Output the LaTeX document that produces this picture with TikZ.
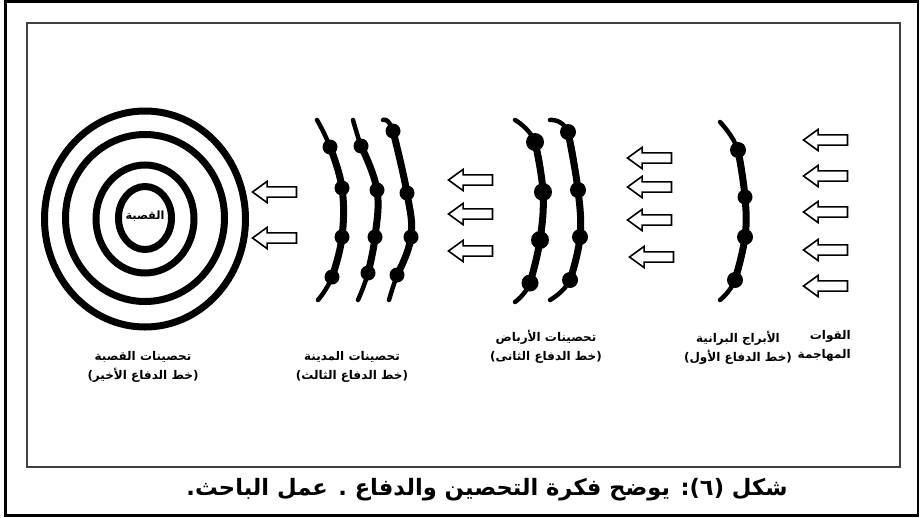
\documentclass[tikz,border=0pt]{standalone}
\usepackage{fontspec}
\newfontfamily\arabicfont[Script=Arabic]{DejaVu Sans}
\TeXXeTstate=1
\usetikzlibrary{shapes.arrows,shapes.geometric}

\begin{document}
\begin{tikzpicture}[x=1pt,y=-1pt,
  ring/.style={ellipse, draw=black, line width=7pt, inner sep=0pt},
  wall/.style={draw=black, line width=4.5pt, line cap=round},
  wallcore/.style={draw=black, line width=7pt, line cap=round},
  tower/.style={circle, fill=black, inner sep=0pt, minimum size=#1},
  tower/.default=15pt,
  attack/.style={single arrow, draw=black, line width=1.6pt, fill=white,
    shape border rotate=180, minimum height=44pt,
    inner xsep=0pt, inner ysep=4.3pt, text height=0pt, text depth=0pt,
    single arrow head extend=5.5pt, single arrow tip angle=72},
  lbl/.style={font=\arabicfont\bfseries\fontsize{12}{19}\selectfont,
    align=center, inner sep=0pt},
  caption/.style={font=\arabicfont\bfseries\fontsize{22.6}{24}\selectfont,
    inner sep=0pt},
]
% page and frames
\fill[white] (0,0) rectangle (921,517);
\useasboundingbox (0,0) rectangle (921,517);
\draw[line width=2.5pt] (5.5,1.5) rectangle (918,515.5);
\draw[draw=black!75, line width=2.5pt] (27,23) rectangle (900,467);

% citadel: concentric rings
\node[ring, minimum width=201pt, minimum height=216pt] (ring4) at (145,219) {};
\node[ring, minimum width=159pt, minimum height=167pt] (ring3) at (145,218) {};
\node[ring, minimum width=98pt,  minimum height=108pt] (ring2) at (145,219) {};
\node[ring, minimum width=53pt,  minimum height=63pt]  (ring1) at (145,218) {};
\node[lbl, font=\arabicfont\bfseries\fontsize{11.3}{13}\selectfont] (qasaba) at (145,216) {\beginR القصبة\endR};

% city walls (third line)
\coordinate (c1t) at (317,120);
\node[tower] (c1a) at (330,147) {};
\node[tower] (c1b) at (342,188) {};
\node[tower] (c1c) at (342,237) {};
\node[tower] (c1d) at (332,277) {};
\coordinate (c1e) at (318,300);
\draw[wall] plot[smooth, tension=0.7] coordinates {(c1t) (c1a.center) (c1b.center) (c1c.center) (c1d.center) (c1e)};
\draw[wallcore] plot[smooth, tension=0.7] coordinates {(c1a.center) (c1b.center) (c1c.center) (c1d.center)};

\coordinate (c2t) at (353,120);
\node[tower] (c2a) at (361,146) {};
\node[tower] (c2b) at (377,190) {};
\node[tower] (c2c) at (375,237) {};
\node[tower] (c2d) at (368,273) {};
\coordinate (c2e) at (358,300);
\draw[wall] plot[smooth, tension=0.7] coordinates {(c2t) (c2a.center) (c2b.center) (c2c.center) (c2d.center) (c2e)};
\draw[wallcore] plot[smooth, tension=0.7] coordinates {(c2a.center) (c2b.center) (c2c.center) (c2d.center)};

\coordinate (c3t) at (383,120);
\node[tower] (c3a) at (393,131) {};
\node[tower] (c3b) at (407,193) {};
\node[tower] (c3c) at (411,237) {};
\node[tower] (c3d) at (397,275) {};
\coordinate (c3e) at (389,300);
\draw[wall] plot[smooth, tension=0.7] coordinates {(c3t) (c3a.center) (c3b.center) (c3c.center) (c3d.center) (c3e)};
\draw[wallcore] plot[smooth, tension=0.7] coordinates {(c3a.center) (c3b.center) (c3c.center) (c3d.center)};

% suburb walls (second line)
\coordinate (s1t) at (515,120);
\node[tower=18pt] (s1a) at (535,142) {};
\node[tower=18pt] (s1b) at (543,192) {};
\node[tower=18pt] (s1c) at (540,240) {};
\node[tower=17pt] (s1d) at (530,283) {};
\coordinate (s1e) at (515,302);
\draw[wall] plot[smooth, tension=0.7] coordinates {(s1t) (s1a.center) (s1b.center) (s1c.center) (s1d.center) (s1e)};
\draw[wallcore] plot[smooth, tension=0.7] coordinates {(s1a.center) (s1b.center) (s1c.center) (s1d.center)};

\coordinate (s2t) at (550,120);
\node[tower=16pt] (s2a) at (568,132) {};
\node[tower=16pt] (s2b) at (578,190) {};
\node[tower=16pt] (s2c) at (580,237) {};
\node[tower=16pt] (s2d) at (570,280) {};
\coordinate (s2e) at (550,300);
\draw[wall] plot[smooth, tension=0.7] coordinates {(s2t) (s2a.center) (s2b.center) (s2c.center) (s2d.center) (s2e)};
\draw[wallcore] plot[smooth, tension=0.7] coordinates {(s2a.center) (s2b.center) (s2c.center) (s2d.center)};

% outer towers (first line)
\coordinate (o1t) at (720,122);
\node[tower=16pt] (o1a) at (738,150) {};
\node[tower=15pt] (o1b) at (745,197) {};
\node[tower=16pt] (o1c) at (745,237) {};
\node[tower=16pt] (o1d) at (735,280) {};
\coordinate (o1e) at (720,300);
\draw[wall] plot[smooth, tension=0.7] coordinates {(o1t) (o1a.center) (o1b.center) (o1c.center) (o1d.center) (o1e)};
\draw[wallcore] plot[smooth, tension=0.7] coordinates {(o1a.center) (o1b.center) (o1c.center) (o1d.center)};

% attacking thrusts
\node[attack] (a11) at (278,192) {};
\node[attack] (a12) at (278,238) {};
\node[attack] (a21) at (474,180) {};
\node[attack] (a22) at (474,214) {};
\node[attack] (a23) at (474,251) {};
\node[attack] (a31) at (653,158) {};
\node[attack] (a32) at (653,187) {};
\node[attack] (a33) at (653,220) {};
\node[attack] (a34) at (655,257) {};
\node[attack] (a41) at (829,140) {};
\node[attack] (a42) at (829,176) {};
\node[attack] (a43) at (829,212) {};
\node[attack] (a44) at (829,250) {};
\node[attack] (a45) at (829,286) {};

% labels
\node[lbl] (lab1) at (143,367) {\beginR تحصينات القصبة\endR\\\beginR(خط الدفاع الأخير)\endR};
\node[lbl] (lab2) at (352,367) {\beginR تحصينات المدينة\endR\\\beginR(خط الدفاع الثالث)\endR};
\node[lbl] (lab3) at (546,347) {\beginR تحصينات الأرباض\endR\\\beginR(خط الدفاع الثانى)\endR};
\node[lbl] (lab4) at (738,348) {\beginR الأبراج البرانية\endR\\\beginR(خط الدفاع الأول)\endR};
\node[lbl, align=right, anchor=east] (lab5) at (851,346) {\beginR القوات\endR\\\beginR المهاجمة\endR};

% caption
\node[caption] (cap) at (487,490) {\beginR شكل (٦): يوضح فكرة التحصين والدفاع . عمل الباحث.\endR};
\end{tikzpicture}
\end{document}
